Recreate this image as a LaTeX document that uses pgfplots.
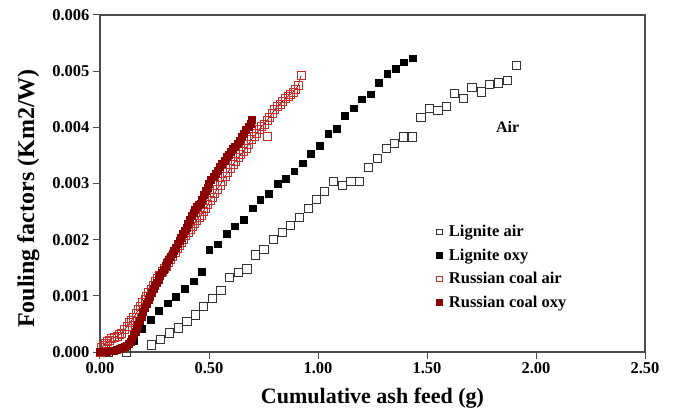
\documentclass[border=0pt]{standalone}
\usepackage{pgfplots}
\pgfplotsset{compat=1.18}
\usepackage{fontspec}
\setmainfont{Liberation Serif}
\definecolor{russair}{RGB}{200,45,45}
\definecolor{russoxy}{RGB}{139,0,0}
\definecolor{frame}{RGB}{75,75,75}
\begin{document}
\begin{tikzpicture}[x=1pt,y=1pt]
\begin{axis}[
  scale only axis,
  width=545pt, height=337pt,
  xmin=0, xmax=2.5, ymin=0, ymax=0.006,
  xtick={0,0.5,1,1.5,2,2.5},
  ytick={0,0.001,0.002,0.003,0.004,0.005,0.006},
  xticklabel style={/pgf/number format/.cd,fixed,fixed zerofill,precision=2,assume math mode=true},
  yticklabel style={/pgf/number format/.cd,fixed,fixed zerofill,precision=3,assume math mode=true},
  scaled y ticks=false,
  tick label style={font=\fontsize{16.5}{18}\selectfont\bfseries, text=black},
  xlabel={Cumulative ash feed (g)},
  ylabel={Fouling factors (Km2/W)},
  xlabel style={yshift=-7pt, font=\fontsize{22}{25}\selectfont\bfseries},
  ylabel style={yshift=6pt, xshift=-15pt, font=\fontsize{24}{27}\selectfont\bfseries},
  tick align=outside,
  major tick length=7pt,
  xtick pos=bottom, ytick pos=left,
  tick style={frame, line width=1pt},
  axis line style={frame, line width=1.2pt},
  legend cell align=left,
  legend style={at={(rel axis cs:0.611,0.388)}, anchor=north west, draw=none, fill=none,
    font=\fontsize{16.5}{18}\selectfont\bfseries, row sep=6.5pt},
  legend image code/.code={\path (0cm,0cm) (0.35cm,0cm); \draw[#1, mark size=2.8pt] plot coordinates {(0.1cm,0cm)};},
]
% Lignite air
\addplot[only marks, mark=square, mark size=4.1pt, draw=black!80, line width=0.8pt] coordinates {
(0.038,0.00000)(0.122,0.00000)(0.237,0.000125)(0.277,0.00023)(0.318,0.00034)(0.359,0.00043)
(0.399,0.00055)(0.436,0.00066)(0.476,0.00081)(0.515,0.00096)(0.555,0.00110)(0.595,0.00133)
(0.635,0.00142)(0.674,0.00148)(0.714,0.00173)(0.752,0.00183)(0.794,0.00200)(0.835,0.00213)
(0.875,0.00226)(0.914,0.00239)(0.956,0.00256)(0.994,0.00271)(1.031,0.00286)(1.070,0.00304)
(1.112,0.00297)(1.151,0.00304)(1.190,0.00304)(1.231,0.00329)(1.272,0.00345)(1.312,0.00362)
(1.352,0.00371)(1.391,0.00383)(1.433,0.00383)(1.472,0.00417)(1.511,0.00434)(1.550,0.00430)
(1.589,0.00437)(1.627,0.00460)(1.667,0.00452)(1.706,0.00471)(1.748,0.00463)(1.787,0.00476)
(1.829,0.00479)(1.870,0.00484)(1.910,0.00510)
};
\addlegendentry{Lignite air}
% Lignite oxy
\addplot[only marks, mark=square*, mark size=3.4pt, draw=black, fill=black] coordinates {
(0.000,0.00000)(0.076,0.00005)(0.153,0.00020)(0.194,0.00042)(0.231,0.00057)(0.271,0.00073)
(0.310,0.00087)(0.349,0.00099)(0.388,0.00112)(0.428,0.00126)(0.465,0.00143)(0.501,0.00182)
(0.541,0.00192)(0.580,0.00210)(0.619,0.00224)(0.659,0.00236)(0.699,0.00256)(0.735,0.00271)
(0.775,0.00282)(0.815,0.00299)(0.853,0.00309)(0.891,0.00322)(0.931,0.00336)(0.968,0.00353)
(1.006,0.00367)(1.047,0.00388)(1.084,0.00397)(1.124,0.00420)(1.164,0.00434)(1.200,0.00450)
(1.240,0.00459)(1.280,0.00479)(1.317,0.00496)(1.355,0.00504)(1.394,0.00516)(1.433,0.00523)
};
\addlegendentry{Lignite oxy}
% Russian coal air
\addplot[mark=square, mark size=4pt, draw=russoxy, line width=0.7pt,
  mark options={draw=russair, line width=0.8pt}] coordinates {
(0.000,0.00000)(0.008,0.00008)(0.015,0.00012)(0.025,0.00015)(0.035,0.00018)(0.045,0.00021)
(0.054,0.00024)(0.065,0.00026)(0.078,0.00028)(0.090,0.00031)(0.100,0.00034)(0.112,0.00040)
(0.125,0.00046)(0.136,0.00052)(0.145,0.00056)(0.155,0.00062)(0.166,0.00069)(0.176,0.00075)
(0.186,0.00082)(0.196,0.00088)(0.206,0.00094)(0.215,0.00099)(0.224,0.00106)(0.234,0.00112)
(0.244,0.00118)(0.254,0.00125)(0.264,0.00131)(0.274,0.00136)(0.284,0.00143)(0.294,0.00148)
(0.304,0.00152)(0.314,0.00159)(0.324,0.00165)(0.334,0.00171)(0.344,0.00178)(0.354,0.00185)
(0.364,0.00190)(0.374,0.00196)(0.384,0.00201)(0.394,0.00207)(0.404,0.00213)(0.414,0.00218)
(0.424,0.00223)(0.434,0.00229)(0.444,0.00235)(0.454,0.00240)(0.464,0.00244)(0.474,0.00251)
(0.484,0.00256)(0.494,0.00262)(0.505,0.00270)(0.515,0.00276)(0.526,0.00282)(0.537,0.00290)
(0.550,0.00297)(0.562,0.00304)(0.574,0.00313)(0.586,0.00320)(0.598,0.00326)(0.610,0.00334)
(0.622,0.00340)(0.634,0.00346)(0.646,0.00352)(0.658,0.00357)(0.670,0.00363)(0.682,0.00370)
(0.694,0.00378)(0.706,0.00384)(0.718,0.00389)(0.730,0.00396)(0.742,0.00402)(0.754,0.00406)
(0.766,0.00412)(0.778,0.00418)(0.790,0.00425)(0.802,0.00432)(0.814,0.00438)(0.826,0.00441)
(0.838,0.00446)(0.850,0.00451)(0.862,0.00455)(0.874,0.00459)(0.886,0.00463)(0.898,0.00468)
(0.910,0.00475)(0.922,0.00492)
};
\addlegendentry{Russian coal air}
% Russian coal oxy
\addplot[only marks, mark=square*, mark size=3.5pt, draw=russoxy, fill=russoxy] coordinates {
(0.000,0.00000)(0.015,0.00000)(0.030,0.00001)(0.050,0.00002)(0.065,0.00003)(0.077,0.00004)
(0.090,0.00005)(0.100,0.00007)(0.112,0.00009)(0.122,0.00011)(0.132,0.00014)(0.140,0.00018)
(0.147,0.00023)(0.155,0.00030)(0.162,0.00036)(0.168,0.00041)(0.175,0.00048)(0.182,0.00055)
(0.190,0.00062)(0.198,0.00071)(0.206,0.00079)(0.214,0.00086)(0.222,0.00093)(0.230,0.00099)
(0.238,0.00105)(0.245,0.00112)(0.252,0.00118)(0.260,0.00123)(0.268,0.00129)(0.276,0.00135)
(0.284,0.00141)(0.292,0.00147)(0.300,0.00153)(0.308,0.00159)(0.316,0.00165)(0.324,0.00170)
(0.332,0.00175)(0.340,0.00180)(0.348,0.00186)(0.356,0.00192)(0.364,0.00198)(0.372,0.00204)
(0.380,0.00210)(0.388,0.00216)(0.396,0.00222)(0.404,0.00229)(0.412,0.00236)(0.420,0.00242)
(0.428,0.00248)(0.436,0.00253)(0.444,0.00258)(0.452,0.00262)(0.460,0.00264)(0.468,0.00271)
(0.476,0.00280)(0.484,0.00288)(0.492,0.00293)(0.500,0.00300)(0.510,0.00306)(0.520,0.00312)
(0.530,0.00317)(0.540,0.00323)(0.550,0.00330)(0.560,0.00336)(0.570,0.00341)(0.580,0.00347)
(0.590,0.00352)(0.600,0.00357)(0.610,0.00362)(0.620,0.00366)(0.630,0.00371)(0.640,0.00377)
(0.650,0.00383)(0.660,0.00389)(0.670,0.00395)(0.680,0.00401)(0.690,0.00407)(0.697,0.00414)
};
\addlegendentry{Russian coal oxy}
% outlier of Russian coal air
\addplot[only marks, mark=square, mark size=4pt, draw=russair, line width=0.8pt, forget plot] coordinates {(0.768,0.00383)};
\node[font=\fontsize{16}{18}\selectfont\bfseries] at (axis cs:1.87,0.0040) {Air};
\end{axis}
\path (current axis.south west) ++(-100pt,-62pt) coordinate (bl);
\path (current axis.north east) ++(31pt,15pt) coordinate (tr);
\pgfresetboundingbox
\path[use as bounding box] (bl) rectangle (tr);
\end{tikzpicture}
\end{document}
